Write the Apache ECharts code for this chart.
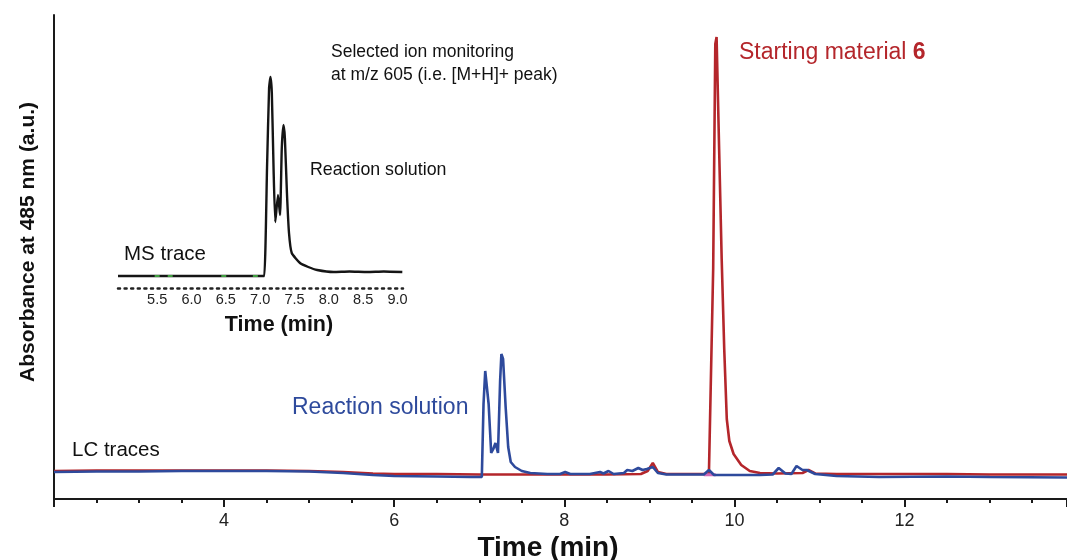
<!DOCTYPE html>
<html>
<head>
<meta charset="utf-8">
<script src="https://cdn.jsdelivr.net/npm/echarts@6/dist/echarts.min.js"></script>
<style>
html,body{margin:0;padding:0;background:#fff;}
#chart{width:1067px;height:560px;}
</style>
</head>
<body>
<div id="chart"></div>
<script>
// LC traces (time in min, absorbance in arbitrary units)
var redTime = [2.0, 2.5, 3.0, 3.5, 4.0, 4.5, 5.0, 5.4, 5.75, 6.0, 6.5, 7.0, 7.5, 8.0, 8.5, 8.9, 8.98, 9.04, 9.1, 9.2, 9.5, 9.7, 9.72, 9.75, 9.775, 9.79, 9.82, 9.85, 9.88, 9.91, 9.94, 9.99, 10.08, 10.18, 10.3, 10.5, 10.8, 10.87, 10.95, 11.2, 12.0, 12.5, 13.0, 13.91];
var redAbs  = [28, 28.5, 28.5, 28.5, 28.5, 28.5, 28, 27, 25.5, 25, 25, 24.5, 24.5, 24.5, 24.5, 25, 28, 36, 27, 25, 25, 25, 26, 230, 455, 462, 350, 240, 150, 80, 58, 45, 34, 28, 26, 25.5, 26, 29, 25.5, 25, 25, 25, 24.5, 24.5];

var blueTime = [2.0, 2.5, 3.0, 3.5, 4.0, 4.5, 5.0, 5.4, 5.75, 6.0, 6.5, 6.9, 7.03, 7.05, 7.07, 7.09, 7.11, 7.14, 7.165, 7.19, 7.22, 7.245, 7.26, 7.28, 7.31, 7.34, 7.37, 7.42, 7.5, 7.6, 7.8, 7.95, 8.01, 8.07, 8.3, 8.42, 8.46, 8.52, 8.58, 8.7, 8.74, 8.8, 8.87, 8.92, 8.97, 9.04, 9.1, 9.2, 9.5, 9.64, 9.70, 9.76, 10.0, 10.3, 10.45, 10.52, 10.6, 10.67, 10.73, 10.8, 10.85, 10.95, 11.2, 11.7, 12.5, 13.0, 13.91];
var blueAbs  = [27, 27.5, 27.5, 28, 28, 28, 27.5, 26, 24, 23, 22.5, 22, 22, 95, 128, 130, 95, 46, 50, 56, 46, 118, 145, 140, 92, 52, 37, 32, 28, 26, 25, 25, 27, 25, 25, 27, 25.5, 28, 25, 26, 29, 28, 31, 29, 30, 32, 26, 24.5, 24.5, 24.5, 29, 24, 24, 24, 24.5, 31, 25.5, 25, 33, 29, 29, 25, 23, 22, 22.5, 22, 21.5];

var magentaTime = [9.64, 9.78];
var magentaAbs  = [24.3, 24.3];

// MS trace (inset), time in min, intensity arbitrary
var msTime = [4.93, 5.5, 6.0, 6.5, 7.0, 7.06, 7.1, 7.13, 7.15, 7.17, 7.195, 7.22, 7.26, 7.29, 7.315, 7.34, 7.36, 7.39, 7.42, 7.46, 7.58, 7.7, 7.83, 8.07, 8.3, 8.56, 8.8, 9.07];
var msInt  = [12, 12, 12, 12, 12, 12, 120, 200, 211, 195, 120, 66, 93, 73, 140, 163, 150, 95, 55, 35, 25, 21, 18, 16, 16.5, 16, 16.5, 16];
var msMarkTime = [5.5, 5.69, 6.47, 6.93];
var msMarkInt  = [12, 12, 12, 12];

var mainTickLabels = [4, 6, 8, 10, 12];
var insetTickLabels = [5.5, 6.0, 6.5, 7.0, 7.5, 8.0, 8.5, 9.0];

function pairs(xs, ys){ return xs.map(function(x,i){ return [x, ys[i]]; }); }

var FONT = "'Liberation Sans', Arial, Helvetica, sans-serif";
var RED = '#b4262b';
var BLUE = '#2e4a9c';

var chart = echarts.init(document.getElementById('chart'), null, {renderer:'canvas'});
chart.setOption({
  backgroundColor: '#fff',
  animation: false,
  textStyle: {fontFamily: FONT},
  grid: [
    {left: 54, right: 0, top: 15, bottom: 61},
    {left: 118, right: 664, top: 60, bottom: 272}
  ],
  xAxis: [
    {
      type: 'value', gridIndex: 0, min: 2, max: 13.91, interval: 2,
      axisLine: {show: true, onZero: false, lineStyle: {color: '#1a1a1a', width: 2}},
      axisTick: {show: true, length: 8, lineStyle: {color: '#1a1a1a', width: 2}},
      minorTick: {show: true, splitNumber: 4, length: 4, lineStyle: {color: '#1a1a1a', width: 2}},
      splitLine: {show: false},
      axisLabel: {
        customValues: mainTickLabels,
        fontSize: 18, color: '#222', margin: 13, fontFamily: FONT
      }
    },
    {
      type: 'value', gridIndex: 1, min: 4.93, max: 9.08,
      axisLine: {show: true, onZero: false, lineStyle: {color: '#222', width: 2.5, type: [2, 4.6]}},
      axisTick: {show: false},
      splitLine: {show: false},
      axisLabel: {
        customValues: insetTickLabels,
        formatter: function(v){ return v.toFixed(1); },
        fontSize: 14.5, color: '#222', margin: 4, fontFamily: FONT
      }
    }
  ],
  yAxis: [
    {
      type: 'value', gridIndex: 0, min: 0, max: 484,
      axisLine: {show: true, lineStyle: {color: '#1a1a1a', width: 2}},
      axisTick: {show: false}, axisLabel: {show: false}, splitLine: {show: false}
    },
    {
      type: 'value', gridIndex: 1, min: 0, max: 228,
      axisLine: {show: false}, axisTick: {show: false}, axisLabel: {show: false}, splitLine: {show: false}
    }
  ],
  series: [
    {
      type: 'line', xAxisIndex: 0, yAxisIndex: 0, data: pairs(redTime, redAbs),
      showSymbol: false, lineStyle: {color: RED, width: 2.6}, z: 2
    },
    {
      type: 'line', xAxisIndex: 0, yAxisIndex: 0, data: pairs(magentaTime, magentaAbs),
      showSymbol: false, lineStyle: {color: '#d36ab8', width: 3}, z: 2
    },
    {
      type: 'line', xAxisIndex: 0, yAxisIndex: 0, data: pairs(blueTime, blueAbs),
      showSymbol: false, lineStyle: {color: BLUE, width: 2.6}, z: 3
    },
    {
      type: 'line', xAxisIndex: 1, yAxisIndex: 1, data: pairs(msTime, msInt),
      showSymbol: false, smooth: 0.15, lineStyle: {color: '#151515', width: 2.4}, z: 3
    },
    {
      type: 'scatter', xAxisIndex: 1, yAxisIndex: 1, data: pairs(msMarkTime, msMarkInt),
      symbol: 'rect', symbolSize: [5, 2], itemStyle: {color: '#4cc04c'}, z: 4
    }
  ],
  graphic: [
    {type: 'text', x: 28, y: 242, rotation: Math.PI / 2, style: {text: 'Absorbance at 485 nm (a.u.)', font: 'bold 21px ' + FONT, fill: '#111', align: 'center', verticalAlign: 'middle'}},
    {type: 'text', x: 548, y: 548, style: {text: 'Time (min)', font: 'bold 28px ' + FONT, fill: '#111', align: 'center', verticalAlign: 'middle'}},
    {type: 'text', x: 279, y: 325, style: {text: 'Time (min)', font: 'bold 21.5px ' + FONT, fill: '#111', align: 'center', verticalAlign: 'middle'}},
    {type: 'text', x: 331, y: 52, style: {text: 'Selected ion monitoring', font: '17.5px ' + FONT, fill: '#111', verticalAlign: 'middle'}},
    {type: 'text', x: 331, y: 75, style: {text: 'at m/z 605 (i.e. [M+H]+ peak)', font: '17.5px ' + FONT, fill: '#111', verticalAlign: 'middle'}},
    {type: 'text', x: 310, y: 170, style: {text: 'Reaction solution', font: '17.8px ' + FONT, fill: '#111', verticalAlign: 'middle'}},
    {type: 'text', x: 124, y: 254, style: {text: 'MS trace', font: '20.5px ' + FONT, fill: '#111', verticalAlign: 'middle'}},
    {type: 'text', x: 72, y: 450, style: {text: 'LC traces', font: '20.5px ' + FONT, fill: '#111', verticalAlign: 'middle'}},
    {type: 'text', x: 292, y: 408, style: {text: 'Reaction solution', font: '23px ' + FONT, fill: BLUE, verticalAlign: 'middle'}},
    {type: 'text', x: 739, y: 53, style: {
      text: '{n|Starting material }{b|6}',
      verticalAlign: 'middle',
      fill: RED,
      rich: {
        n: {fontSize: 23, fontFamily: FONT, fill: RED, color: RED},
        b: {fontSize: 23, fontFamily: FONT, fontWeight: 'bold', fill: RED, color: RED}
      }
    }}
  ]
});
</script>
</body>
</html>
